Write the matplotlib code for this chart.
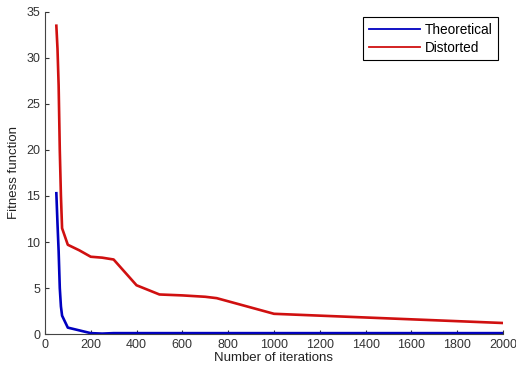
import matplotlib
matplotlib.use("Agg")
import matplotlib.pyplot as plt

plt.rcParams['font.family'] = ['Liberation Sans', 'DejaVu Sans']

# iterations and fitness values
iters_dist = [50, 55, 60, 65, 70, 75, 100, 150, 200, 250, 300, 400, 500, 600, 700, 750,
              1000, 1200, 1400, 1600, 1800, 2000]
fit_dist = [33.5, 31.0, 27.0, 20.0, 15.0, 11.5, 9.7, 9.1, 8.4, 8.3, 8.1, 5.3, 4.3, 4.2,
            4.05, 3.9, 2.2, 2.0, 1.8, 1.6, 1.4, 1.2]

iters_theo = [50, 55, 60, 65, 70, 75, 100, 150, 200, 250, 300, 500, 1000, 2000]
fit_theo = [15.3, 12.0, 9.0, 5.0, 3.0, 2.0, 0.7, 0.4, 0.1, 0.05, 0.1, 0.1, 0.1, 0.1]

fig = plt.figure(figsize=(5.16, 3.72), dpi=100)
ax = fig.add_axes([0.087, 0.102, 0.888, 0.866])

ax.plot(iters_theo, fit_theo, color='#0000c0', lw=1.9, label='Theoretical')
ax.plot(iters_dist, fit_dist, color='#d01010', lw=1.9, label='Distorted')

ax.set_xlim(0, 2000)
ax.set_ylim(0, 35)
ax.set_xticks(range(0, 2001, 200))
ax.set_yticks(range(0, 36, 5))
ax.tick_params(direction='in', labelsize=9, length=3, colors='#333333')
ax.spines['top'].set_visible(False)
ax.spines['right'].set_visible(False)
ax.spines['left'].set_color('#444444')
ax.spines['bottom'].set_color('#444444')
ax.set_xlabel('Number of iterations', fontsize=9.5, labelpad=1, color='#222222')
ax.set_ylabel('Fitness function', fontsize=9.5, labelpad=4, color='#222222')

leg = ax.legend(loc='upper right', fontsize=9.8, fancybox=False, framealpha=1,
                edgecolor='black', handlelength=3.8, handletextpad=0.3,
                borderaxespad=0.4, labelspacing=0.3)
leg.get_frame().set_linewidth(0.8)
for h in leg.get_lines():
    h.set_linewidth(1.3)

fig.savefig('out.png', dpi=100)
